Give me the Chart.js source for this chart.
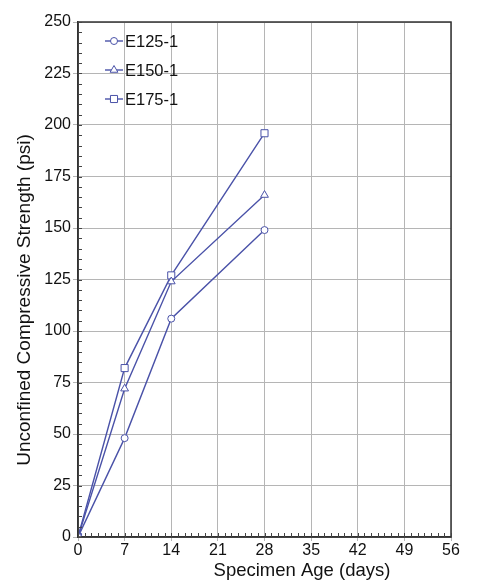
<!DOCTYPE html>
<html>
<head>
<meta charset="utf-8">
<script src="https://cdn.jsdelivr.net/npm/chart.js@4/dist/chart.umd.min.js"></script>
<style>
  html, body { margin: 0; padding: 0; background: #ffffff; }
  #wrap { width: 477px; height: 584px; }
</style>
</head>
<body>
<div id="wrap"><canvas id="c" width="477" height="584"></canvas></div>
<script>
// ---- Data ----
const ages = [0, 7, 14, 28];
const e125 = [0, 48, 106, 149];
const e150 = [0, 72, 124, 166];
const e175 = [0, 82, 127, 196];
const seriesLabels = ['E125-1', 'E150-1', 'E175-1'];
const xTickValues = [0, 7, 14, 21, 28, 35, 42, 49, 56];
const yTickValues = [0, 25, 50, 75, 100, 125, 150, 175, 200, 225, 250];
const xTitle = 'Specimen Age (days)';
const yTitle = 'Unconfined Compressive Strength (psi)';

const LINE = '#4a52a8';
const FONT = 'Liberation Sans, Arial, sans-serif';

function toPts(vals) { return ages.map((a, i) => ({ x: a, y: vals[i] })); }

const styles = ['circle', 'triangle', 'rect'];
const radii = [3.5, 4.5, 5];
const seriesVals = [e125, e150, e175];

const datasets = seriesVals.map((v, i) => ({
  label: seriesLabels[i],
  data: toPts(v),
  borderColor: LINE,
  backgroundColor: '#ffffff',
  borderWidth: 1.4,
  pointStyle: styles[i],
  pointRadius: radii[i],
  pointBorderWidth: 1,
  pointBorderColor: LINE,
  pointBackgroundColor: '#ffffff',
  tension: 0
}));

const decorPlugin = {
  id: 'decor',
  afterDraw(chart) {
    const { ctx, chartArea: ca, scales } = chart;
    const xs = scales.x, ys = scales.y;
    ctx.save();
    // frame
    ctx.strokeStyle = '#333333';
    ctx.lineWidth = 1.5;
    ctx.strokeRect(ca.left, ca.top, ca.right - ca.left, ca.bottom - ca.top);
    // minor ticks
    ctx.strokeStyle = '#444444';
    ctx.lineWidth = 1;
    ctx.beginPath();
    for (let d = 0; d <= 56; d += 1) {
      const px = Math.round(xs.getPixelForValue(d)) + 0.5;
      ctx.moveTo(px, ca.bottom);
      ctx.lineTo(px, ca.bottom - 4);
    }
    for (let v = 0; v <= 250; v += 5) {
      const py = Math.round(ys.getPixelForValue(v)) + 0.5;
      ctx.moveTo(ca.left, py);
      ctx.lineTo(ca.left + 4, py);
    }
    ctx.stroke();
    // legend
    const lx0 = ca.left + 27, lx1 = ca.left + 45, mx = (lx0 + lx1) / 2;
    const rows = [ca.top + 19, ca.top + 48, ca.top + 77];
    seriesLabels.forEach((lab, i) => {
      const y = rows[i];
      ctx.strokeStyle = LINE;
      ctx.lineWidth = 1.4;
      ctx.beginPath();
      ctx.moveTo(lx0, y); ctx.lineTo(lx1, y);
      ctx.stroke();
      ctx.fillStyle = '#ffffff';
      ctx.lineWidth = 1;
      Chart.helpers.drawPoint(ctx, { pointStyle: styles[i], radius: radii[i], borderWidth: 1 }, mx, y);
      ctx.fillStyle = '#111111';
      ctx.font = '16.5px ' + FONT;
      ctx.textAlign = 'left';
      ctx.textBaseline = 'middle';
      ctx.fillText(lab, lx1 + 2, y + 1);
    });
    // axis titles
    ctx.fillStyle = '#111111';
    ctx.textAlign = 'center';
    ctx.textBaseline = 'middle';
    ctx.font = '18.5px ' + FONT;
    ctx.fillText(xTitle, 302, 571);
    ctx.save();
    ctx.font = '19px ' + FONT;
    ctx.translate(25, 300);
    ctx.rotate(-Math.PI / 2);
    ctx.fillText(yTitle, 0, 0);
    ctx.restore();
    ctx.restore();
  }
};

new Chart(document.getElementById('c'), {
  type: 'line',
  data: { datasets },
  options: {
    responsive: false,
    animation: false,
    layout: { padding: { left: 0, top: 22, right: 26, bottom: 0 } },
    plugins: { legend: { display: false }, tooltip: { enabled: false } },
    scales: {
      x: {
        type: 'linear',
        min: 0, max: 56,
        afterBuildTicks(s) { s.ticks = xTickValues.map(v => ({ value: v })); },
        afterFit(s) { s.height = 47; },
        ticks: { color: '#111111', font: { family: FONT, size: 16 }, padding: 0, maxRotation: 0 },
        grid: { color: '#b5b5b5', lineWidth: 1, tickLength: 4, tickColor: '#b5b5b5' },
        border: { color: '#333333', width: 1.5 }
      },
      y: {
        type: 'linear',
        min: 0, max: 250,
        afterBuildTicks(s) { s.ticks = yTickValues.map(v => ({ value: v })); },
        afterFit(s) { s.width = 78; },
        ticks: { color: '#111111', font: { family: FONT, size: 16 }, padding: 2 },
        grid: { color: '#b5b5b5', lineWidth: 1, tickLength: 5, tickColor: '#b5b5b5' },
        border: { color: '#333333', width: 1.5 }
      }
    }
  },
  plugins: [decorPlugin]
});
</script>
</body>
</html>
